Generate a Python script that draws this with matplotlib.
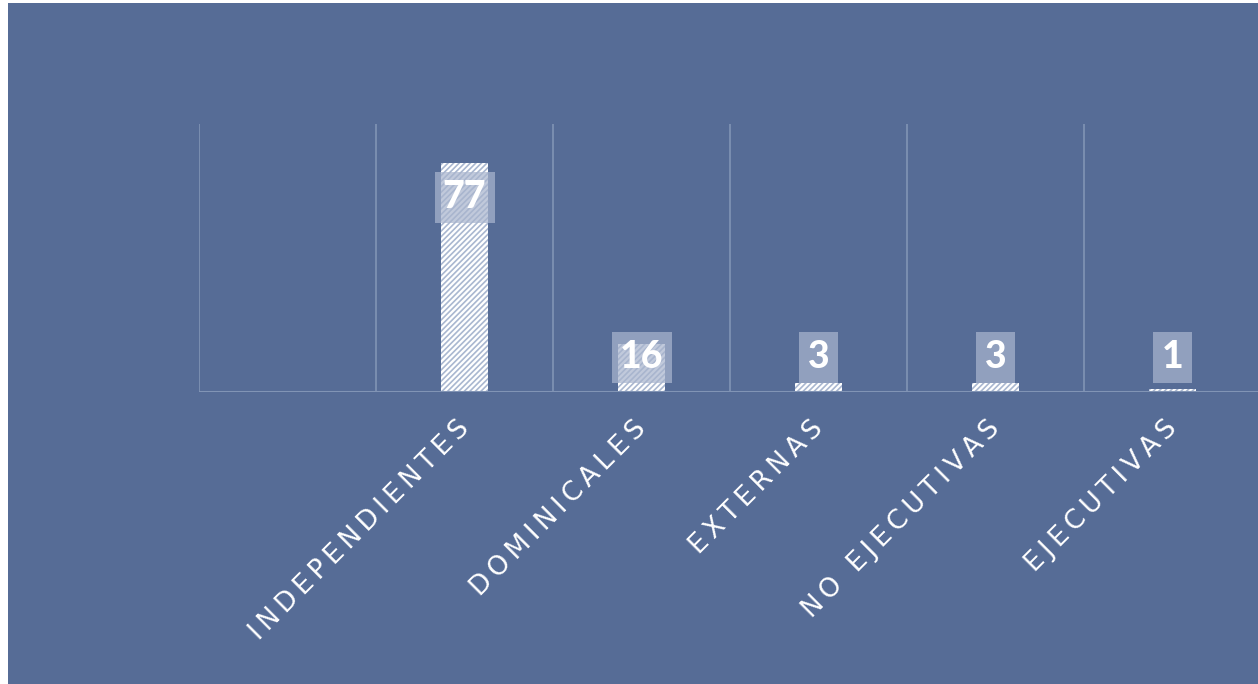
"""Consejeros por tipología: barras con rayado y etiquetas de valor."""

import matplotlib

matplotlib.use("Agg")

import matplotlib.pyplot as plt
from matplotlib.patches import Rectangle
from matplotlib.transforms import ScaledTranslation

categories = ["", "INDEPENDIENTES", "DOMINICALES", "EXTERNAS", "NO EJECUTIVAS", "EJECUTIVAS"]
values = [0, 77, 16, 3, 3, 1]

BG = "#566c96"
GRID = "#8194b5"
HATCH = "#a9b7d0"
LABEL_BOX = "#a9b5ce"

plt.rcParams["hatch.color"] = HATCH
plt.rcParams["hatch.linewidth"] = 1.2

fig = plt.figure(figsize=(12.58, 6.84), dpi=100)
fig.patch.set_facecolor("white")
fig.patches.append(
    Rectangle((8 / 1258, 0), 1 - 8 / 1258, 1 - 3 / 684, transform=fig.transFigure,
              facecolor=BG, edgecolor="none", zorder=-10)
)

ax = fig.add_axes([199 / 1258, 1 - 392 / 684, 1 - 199 / 1258, (392 - 124) / 684])
ax.set_facecolor("none")

x = list(range(len(categories)))
ax.bar(x, values, width=0.27, facecolor="white", edgecolor=HATCH, hatch="//////",
       linewidth=0, zorder=3)

ax.set_xlim(-0.5, 5.5 - 3 / 177)
ax.set_ylim(0, 90)

for b in [i - 0.5 for i in range(6)]:
    ax.axvline(b, color=GRID, linewidth=1.2, zorder=1)
ax.axhline(0, color=GRID, linewidth=1.5, zorder=4)

for xi, v in zip(x, values):
    if not categories[xi]:
        continue
    ypos = max(v - 11.6, 11.6)
    ax.text(xi, ypos, str(v), ha="center", va="center", color="white", fontsize=27,
            fontweight="black", family=["Lato", "DejaVu Sans"], zorder=5,
            bbox=dict(boxstyle="square,pad=0.22", facecolor=LABEL_BOX, alpha=0.72,
                      edgecolor="none"))

for s in ax.spines.values():
    s.set_visible(False)
ax.set_yticks([])
ax.set_xticks(x)
spaced = ["\u2009".join(c) for c in categories]
ax.set_xticklabels(spaced, rotation=45, ha="right", va="top", rotation_mode="anchor",
                   color="white", fontsize=19, fontfamily="DejaVu Sans")
ax.tick_params(axis="x", length=0, pad=17)
shift = ScaledTranslation(-6 / 72, 0, fig.dpi_scale_trans)
for lbl in ax.get_xticklabels():
    lbl.set_transform(lbl.get_transform() + shift)

fig.savefig("out.png", dpi=100, facecolor=fig.get_facecolor())
